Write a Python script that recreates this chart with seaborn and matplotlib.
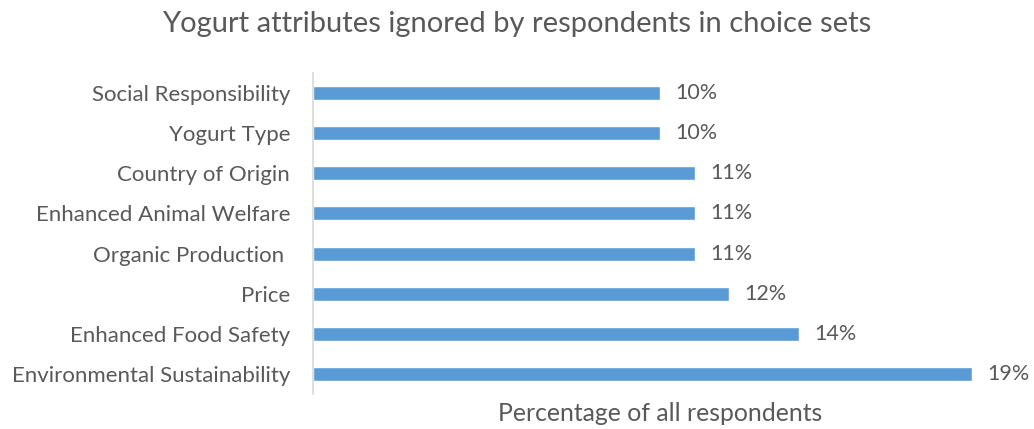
import matplotlib
matplotlib.use("Agg")
import matplotlib.pyplot as plt
import seaborn as sns
import pandas as pd

# attributes, top to bottom as in the chart
attributes = [
    "Social Responsibility",
    "Yogurt Type",
    "Country of Origin",
    "Enhanced Animal Welfare",
    "Organic Production ",
    "Price",
    "Enhanced Food Safety",
    "Environmental Sustainability",
]
pct_ignored = [10, 10, 11, 11, 11, 12, 14, 19]

df = pd.DataFrame({"attribute": attributes, "pct": pct_ignored})

sns.set_style("white")
plt.rcParams["font.family"] = ["Lato", "DejaVu Sans"]
text_col = "#595959"

fig = plt.figure(figsize=(10.34, 4.29), dpi=100)
ax = fig.add_axes([0.3027, 0.0816, 0.6712, 0.7482])

sns.barplot(data=df, x="pct", y="attribute", orient="h", color="#5B9BD5",
            width=0.35, saturation=1, ax=ax)

ax.set_xlim(0, 20)
ax.set_ylim(7.5, -0.5)
ax.set_xticks([])
ax.set_ylabel("")
ax.set_xlabel("Percentage of all respondents", fontsize=17.8, color=text_col, labelpad=6)
ax.tick_params(axis="y", length=0, labelsize=16, labelcolor=text_col, pad=16.5)

for s in ["top", "right", "bottom"]:
    ax.spines[s].set_visible(False)
ax.spines["left"].set_color("#D9D9D9")
ax.spines["left"].set_linewidth(1.2)

ax.bar_label(ax.containers[0], labels=[f"{v}%" for v in pct_ignored],
             padding=11, fontsize=15.5, color=text_col)

fig.suptitle("Yogurt attributes ignored by respondents in choice sets",
             x=0.5, y=0.975, fontsize=21, color=text_col)

fig.savefig("out.png", dpi=100)
